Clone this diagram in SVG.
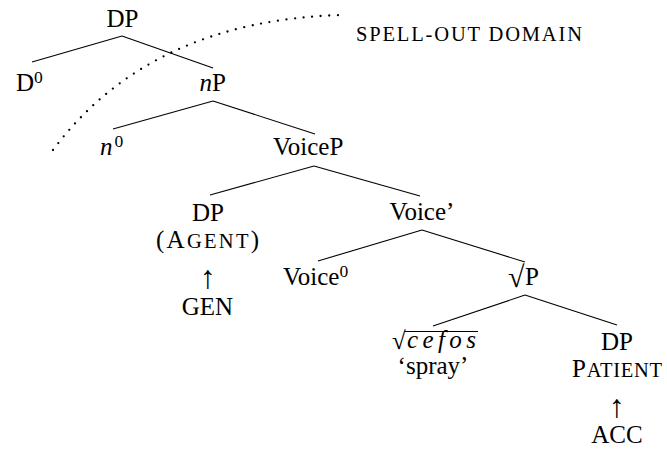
<svg xmlns="http://www.w3.org/2000/svg" width="667" height="450" viewBox="0 0 667 450">
<style>
text{font-family:"Liberation Serif","Times New Roman",serif;font-size:25px;fill:#000}
.mid{text-anchor:middle}
.sup{font-size:17.5px}
.sc{font-size:20.5px}
.it{font-style:italic}
.arr{font-size:32px}
.rad{font-size:30px}
.edge{stroke:#000;stroke-width:1.1;fill:none}
.dots{stroke:#000;stroke-width:2.3;fill:none;stroke-dasharray:0 8.6;stroke-linecap:round}
</style>
<rect width="667" height="450" fill="#fff"/>
<g id="connectors">
<line class="edge" x1="122" y1="36" x2="32" y2="62"/>
<line class="edge" x1="122" y1="36" x2="213" y2="68"/>
<line class="edge" x1="213" y1="101" x2="113" y2="129"/>
<line class="edge" x1="213" y1="101" x2="315" y2="134"/>
<line class="edge" x1="314" y1="166" x2="210" y2="195"/>
<line class="edge" x1="314" y1="166" x2="420" y2="196"/>
<line class="edge" x1="422" y1="230" x2="318" y2="261"/>
<line class="edge" x1="422" y1="230" x2="525" y2="262"/>
<line class="edge" x1="525" y1="295" x2="433" y2="326"/>
<line class="edge" x1="525" y1="295" x2="617" y2="325"/>
</g>
<g id="spellout-boundary">
<path class="dots" d="M53,150 Q150,20 343,15"/>
<text x="356" y="40.5" class="sc" textLength="226" lengthAdjust="spacing">SPELL-OUT DOMAIN</text>
</g>
<g id="n-DP-top"><text x="122.5" y="27" class="mid">DP</text></g>
<g id="n-D0"><text x="16" y="91">D<tspan class="sup" dy="-8.5">0</tspan></text></g>
<g id="n-nP"><text x="199.5" y="91"><tspan class="it">n</tspan>P</text></g>
<g id="n-n0"><text x="100" y="155"><tspan class="it">n</tspan><tspan class="sup" dx="2" dy="-8.5">0</tspan></text></g>
<g id="n-VoiceP"><text x="273" y="155">VoiceP</text></g>
<g id="n-DP-agent">
<text x="208" y="221" class="mid">DP</text>
<text x="207.5" y="248" class="mid" textLength="103" lengthAdjust="spacing">(A<tspan class="sc">GENT</tspan>)</text>
<text x="208" y="288" class="mid arr">↑</text>
<text x="207.5" y="315" class="mid">GEN</text>
</g>
<g id="n-Voice-bar"><text x="422" y="220" class="mid">Voice’</text></g>
<g id="n-Voice0"><text x="283" y="285">Voice<tspan class="sup" dy="-8.5">0</tspan></text></g>
<g id="n-rootP"><text x="508" y="287" class="rad">√</text><text x="525" y="285">P</text></g>
<g id="n-root-cefos">
<text x="392" y="349">√</text>
<line class="edge" x1="405" y1="331.5" x2="478" y2="331.5"/>
<text x="407" y="348" class="it" textLength="69" lengthAdjust="spacing">cefos</text>
<text x="433" y="374" class="mid">‘spray’</text>
</g>
<g id="n-DP-patient">
<text x="617" y="350" class="mid">DP</text>
<text x="617" y="377" class="mid" textLength="90" lengthAdjust="spacing">P<tspan class="sc">ATIENT</tspan></text>
<text x="617" y="417" class="mid arr">↑</text>
<text x="617" y="443" class="mid">ACC</text>
</g>
</svg>
